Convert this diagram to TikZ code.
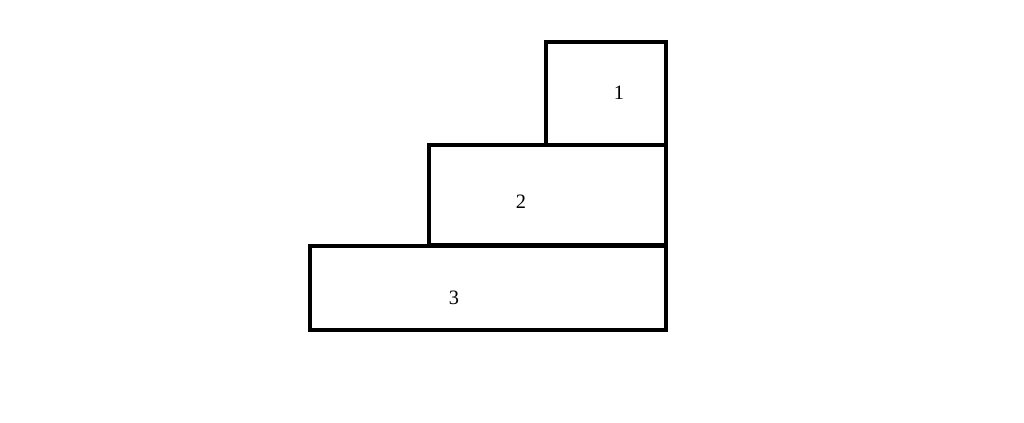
\documentclass[tikz,border=0pt]{standalone}
\usepackage{fontspec}
\setmainfont{Liberation Serif}
\begin{document}
\begin{tikzpicture}[x = 0.025cm, y = -0.025cm, line width = 2.7pt,
								block/.style = {draw, line join = miter},
								num/.style = {font = \fontsize{14.5}{16}\selectfont, inner sep = 0pt}]
				\useasboundingbox (0,0) rectangle (1024,422);

				\draw [block] (546,42) rectangle (666,145);
				\draw [block] (429,145) rectangle (666,245);
				\draw [block] (310,246) rectangle (666,330);

				\node [num] (n_1) at (619,93) {1};
				\node [num] (n_2) at (521,202) {2};
				\node [num] (n_3) at (454,298) {3};
			\end{tikzpicture}
\end{document}
